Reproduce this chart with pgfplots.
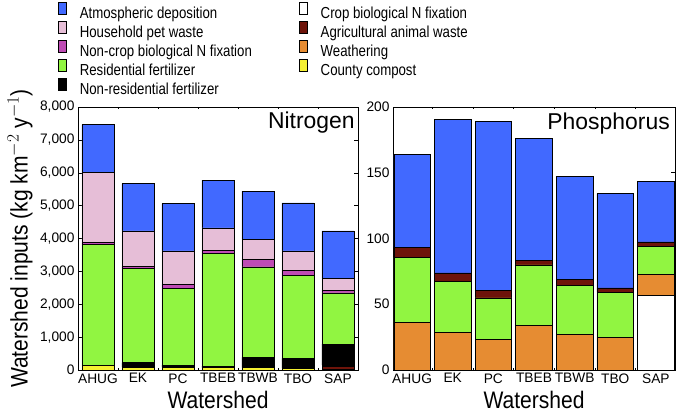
\documentclass[border=0pt]{standalone}
\usepackage{fontspec}
\setmainfont{Liberation Sans}
\newfontfamily\condensed{Liberation Sans}[FakeStretch=0.88]
\newfontfamily\legfont{Liberation Sans}[FakeStretch=0.83]
\usepackage{pgfplots}
\usepackage{pgfplotstable}
\pgfplotsset{compat=1.18}

\definecolor{cblue}{RGB}{65,105,255}
\definecolor{cpink}{RGB}{230,190,215}
\definecolor{cmag}{RGB}{190,75,180}
\definecolor{cgreen}{RGB}{145,245,65}
\definecolor{cdred}{RGB}{110,20,10}
\definecolor{corange}{RGB}{230,140,50}
\definecolor{cyellow}{RGB}{245,240,50}

\pgfplotstableread{
x compost agri crop nonres res noncrop pet atm
0 150 0 0 0 3678 50 2127 1458
1 90 0 0 133 2866 61 1083 1438
2 80 0 0 72 2329 122 1022 1438
3 70 0 0 50 3424 102 678 1448
4 70 0 0 315 2754 223 618 1458
5 60 0 0 294 2522 162 587 1459
6 20 90 40 640 1559 81 355 1448
}\Ndata

\pgfplotstableread{
x crop weath res agri atm
0 0 36.2 49.4 7.6 70.6
1 0 28.6 39.0 6.3 116.5
2 0 23.3 31.6 5.9 128.3
3 0 33.7 46.3 3.5 92.7
4 0 27.3 37.3 4.3 78.4
5 0 24.8 34.4 3.3 71.7
6 56.7 16.0 21.2 3.6 46.0
}\Pdata

\pgfplotsset{
  common/.style={
    scale only axis,
    anchor=south west,
    height=263bp,
    ybar stacked,
    ymin=0,
    xtick={0,...,6},
    xticklabels={AHUG,EK,PC,TBEB,TBWB,TBO,SAP},
    major x tick style={draw=none},
    minor xtick={0.5,1.5,...,5.5},
    minor tick length=2bp,
    major tick length=4bp,
    tick align=inside,
    tick style={black, line width=0.5pt},
    ticklabel style={font=\fontsize{13.8}{16}\selectfont},
    /pgf/number format/assume math mode=true,
    /pgf/number format/1000 sep={,},
    scaled y ticks=false,
    axis line style={line width=0.6pt},
    label style={font=\condensed\fontsize{24}{28}\selectfont},
    xlabel={Watershed},
    xlabel style={at={(axis description cs:0.5,-0.114)}, anchor=center},
    every axis plot/.append style={draw=black, line width=0.5pt},
  },
}

\begin{document}
\begin{tikzpicture}
\begin{axis}[common,
  at={(78bp,43bp)},
  width=280bp,
  xmin=-0.5, xmax=6.5,
  bar width=0.8,
  ymax=8000,
  ytick={0,1000,...,8000},
  ylabel={Watershed inputs (kg km$^{-2}$ y$^{-1}$)},
  ylabel style={at={(axis description cs:-0.207,0.5)}, anchor=center, rotate=0},
  legend columns=2,
  legend cell align=left,
  legend image code/.code={\draw[#1,draw=black,line width=0.5pt] (0bp,-0.3bp) rectangle (8.3bp,11.3bp);},
  legend style={at={(axis description cs:-0.072,1.399)}, anchor=north west,
    draw=none, fill=none, inner sep=0pt,
    font=\legfont\fontsize{16}{18}\selectfont,
    nodes={inner sep=1bp, text height=11.5bp, text depth=3bp},
    row sep=-0.8bp,
    /tikz/column 1/.style={column sep=12bp},
    /tikz/column 2/.style={column sep=46bp},
    /tikz/column 3/.style={column sep=12bp}},
]
\addlegendimage{fill=cblue}\addlegendentry{Atmospheric deposition}
\addlegendimage{fill=white}\addlegendentry{Crop biological N fixation}
\addlegendimage{fill=cpink}\addlegendentry{Household pet waste}
\addlegendimage{fill=cdred}\addlegendentry{Agricultural animal waste}
\addlegendimage{fill=cmag}\addlegendentry{Non-crop biological N fixation}
\addlegendimage{fill=corange}\addlegendentry{Weathering}
\addlegendimage{fill=cgreen}\addlegendentry{Residential fertilizer}
\addlegendimage{fill=cyellow}\addlegendentry{County compost}
\addlegendimage{fill=black}\addlegendentry{Non-residential fertilizer}

\addplot[fill=cyellow, forget plot] table[x=x,y=compost]{\Ndata};
\addplot[fill=cdred, forget plot] table[x=x,y=agri]{\Ndata};
\addplot[fill=white, forget plot] table[x=x,y=crop]{\Ndata};
\addplot[fill=black, forget plot] table[x=x,y=nonres]{\Ndata};
\addplot[fill=cgreen, forget plot] table[x=x,y=res]{\Ndata};
\addplot[fill=cmag, forget plot] table[x=x,y=noncrop]{\Ndata};
\addplot[fill=cpink, forget plot] table[x=x,y=pet]{\Ndata};
\addplot[fill=cblue, forget plot] table[x=x,y=atm]{\Ndata};
\node[anchor=north east, inner sep=0pt, font=\fontsize{23}{26}\selectfont] at (rel axis cs:0.989,0.981) {Nitrogen};
\end{axis}

\begin{axis}[common,
  at={(393bp,43bp)},
  width=282bp,
  xmin=-0.47, xmax=6.47,
  bar width=0.9,
  ymax=200,
  ytick={0,50,...,200},
]
\addplot[fill=white] table[x=x,y=crop]{\Pdata};
\addplot[fill=corange] table[x=x,y=weath]{\Pdata};
\addplot[fill=cgreen] table[x=x,y=res]{\Pdata};
\addplot[fill=cdred] table[x=x,y=agri]{\Pdata};
\addplot[fill=cblue] table[x=x,y=atm]{\Pdata};
\node[anchor=north east, inner sep=0pt, font=\fontsize{23}{26}\selectfont] at (rel axis cs:0.982,0.977) {Phosphorus};
\end{axis}
\pgfresetboundingbox
\path (0,0) rectangle (677bp,413bp);
\end{tikzpicture}
\end{document}
